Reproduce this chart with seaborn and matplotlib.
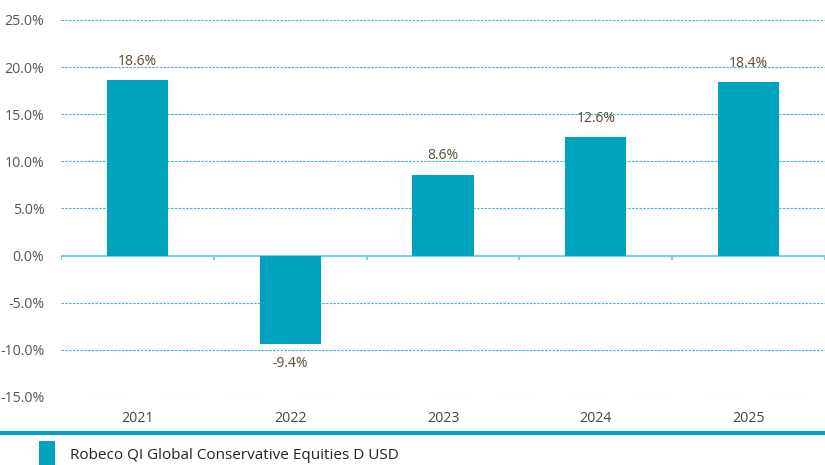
import matplotlib
matplotlib.use("Agg")
import matplotlib.pyplot as plt
import seaborn as sns
import pandas as pd
from matplotlib.lines import Line2D
from matplotlib.patches import Rectangle

years = ["2021", "2022", "2023", "2024", "2025"]
returns = [18.6, -9.4, 8.6, 12.6, 18.4]
labels = ["18.6%", "-9.4%", "8.6%", "12.6%", "18.4%"]
series_name = "Robeco QI Global Conservative Equities D USD"
yticks = [-15, -10, -5, 0, 5, 10, 15, 20, 25]

sns.set_theme(style="white")
plt.rcParams["font.family"] = ["Open Sans", "DejaVu Sans"]

bar_color = "#00a3be"
grid_color = "#3fb6c9"
label_color = "#5a4a30"

df = pd.DataFrame({"year": years, "ret": returns})

fig = plt.figure(figsize=(8.25, 4.65), dpi=100)
ax = fig.add_axes([61 / 825, 1 - 397 / 465, 1 - 61 / 825, (397 - 20) / 465])

sns.barplot(data=df, x="year", y="ret", color=bar_color, width=0.4,
            saturation=1, ax=ax, zorder=3, edgecolor="none", linewidth=0)

ax.set_ylim(-15, 25)
ax.set_xlim(-0.5, len(years) - 0.5)
ax.set_yticks(yticks)
ax.set_yticklabels([f"{v:.1f}%" for v in yticks])
for v in yticks:
    if v != 0:
        ax.axhline(v, color=grid_color, lw=0.8, ls=(0, (2.2, 1.2)), zorder=1)
ax.axhline(0, color="#7fcfdc", lw=1.6, zorder=2)
ax.vlines([i - 0.5 for i in range(len(years) + 1)], -0.45, 0,
          color="#7fcfdc", lw=1.5, zorder=2)

for sp in ax.spines.values():
    sp.set_visible(False)
ax.tick_params(axis="both", length=0, labelsize=10.2)
ax.tick_params(axis="y", colors="#555555", pad=12)
ax.tick_params(axis="x", colors="#444444", pad=10)
ax.set_xlabel("")
ax.set_ylabel("")

for i, (v, t) in enumerate(zip(returns, labels)):
    if v >= 0:
        ax.text(i, v + 1.2, t, ha="center", va="bottom", fontsize=10,
                color=label_color)
    else:
        ax.text(i, v - 1.2, t, ha="center", va="top", fontsize=10,
                color=label_color)

fig.add_artist(Line2D([0, 1], [1 - 433 / 465] * 2, color=bar_color, lw=3,
                      transform=fig.transFigure))

fig.add_artist(Rectangle((39 / 825, 0), 16 / 825, 24 / 465,
                         transform=fig.transFigure, facecolor=bar_color,
                         edgecolor="none"))
fig.text(70 / 825, 1 - 455 / 465, series_name, ha="left", va="center",
         fontsize=11, color="#222222")

fig.savefig("out.png", dpi=100)
